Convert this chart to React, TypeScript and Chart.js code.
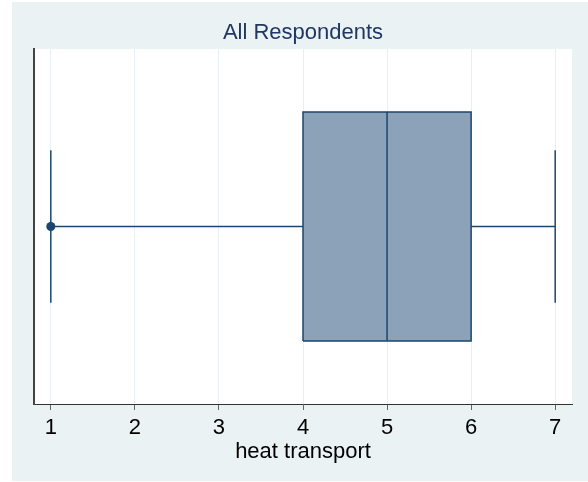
import { useEffect, useRef } from 'react';
import { Chart, registerables } from 'chart.js';

Chart.register(...registerables);

// ---- data ----
const categories = ['heat transport'];
const chartTitle = 'All Respondents';
// lower adjacent, first quartile, median, third quartile, upper adjacent
const statLabels = ['lower', 'q1', 'median', 'q3', 'upper'];
const statValues = [1, 4, 5, 6, 7];
const outsideValues = [1];
const tickValues = [1, 2, 3, 4, 5, 6, 7];

// ---- styles ----
const NAVY = '#1a476f';
const BOX_FILL = '#8ca2b8';
const BG = '#eaf2f3';
const FONT = '"Liberation Sans", Arial, Helvetica, sans-serif';
const BOX_HALF = 0.645;
const CAP_HALF = 0.43;

const bgPlugin = {
  id: 'bgPlugin',
  beforeDraw(chart: any) {
    const { ctx, chartArea, width, height } = chart;
    ctx.save();
    ctx.fillStyle = '#ffffff';
    ctx.fillRect(0, 0, width, height);
    ctx.fillStyle = BG;
    ctx.fillRect(12, 2, width - 12, height - 3);
    ctx.fillStyle = '#ffffff';
    ctx.fillRect(chartArea.left, chartArea.top, chartArea.right - chartArea.left, chartArea.bottom - chartArea.top);
    ctx.restore();
  },
};

export default function App() {
  const ref = useRef<HTMLCanvasElement | null>(null);

  useEffect(() => {
    document.body.style.margin = '0';
    const [lo, q1, med, q3, hi] = statValues;
    const line = (data: any[], extra: any = {}) => ({
      type: 'scatter',
      data,
      showLine: true,
      borderColor: NAVY,
      borderWidth: 1.5,
      pointRadius: 0,
      tension: 0,
      fill: false,
      ...extra,
    });
    const chart = new Chart(ref.current as HTMLCanvasElement, {
      type: 'scatter',
      data: {
        datasets: [
          line([{ x: q1, y: BOX_HALF }, { x: q3, y: BOX_HALF }], {
            label: categories[0] + ' box', borderWidth: 0, fill: '+1', backgroundColor: BOX_FILL, order: 10,
          }),
          line([{ x: q1, y: -BOX_HALF }, { x: q3, y: -BOX_HALF }], { label: 'box-bottom', borderWidth: 0, order: 10 }),
          line(
            [
              { x: q1, y: -BOX_HALF },
              { x: q3, y: -BOX_HALF },
              { x: q3, y: BOX_HALF },
              { x: q1, y: BOX_HALF },
              { x: q1, y: -BOX_HALF },
            ],
            { label: 'box-outline', order: 2 }
          ),
          line([{ x: med, y: -BOX_HALF }, { x: med, y: BOX_HALF }], { label: statLabels[2], order: 2 }),
          line([{ x: lo, y: 0 }, { x: q1, y: 0 }], { label: 'lower whisker', order: 2 }),
          line([{ x: q3, y: 0 }, { x: hi, y: 0 }], { label: 'upper whisker', order: 2 }),
          line([{ x: lo, y: -CAP_HALF }, { x: lo, y: CAP_HALF }], { label: statLabels[0], order: 2 }),
          line([{ x: hi, y: -CAP_HALF }, { x: hi, y: CAP_HALF }], { label: statLabels[4], order: 2 }),
          {
            type: 'scatter',
            label: 'outside values',
            data: outsideValues.map((v) => ({ x: v, y: 0 })),
            pointRadius: 4.5,
            pointBackgroundColor: NAVY,
            pointBorderWidth: 0,
            showLine: false,
            order: 1,
          },
        ] as any,
      },
      options: {
        responsive: false,
        animation: false,
        devicePixelRatio: 1,
        layout: { padding: { left: 34, right: 16, top: 0, bottom: 0 } },
        plugins: {
          legend: { display: false },
          tooltip: { enabled: false },
          title: {
            display: true,
            text: chartTitle,
            color: '#1f3762',
            font: { family: FONT, size: 22, weight: 'normal' },
            padding: { top: 20, bottom: 2.6 },
          },
        },
        scales: {
          x: {
            type: 'linear',
            min: 0.8,
            max: 7.2,
            afterBuildTicks: (s: any) => {
              s.ticks = tickValues.map((v) => ({ value: v }));
            },
            afterFit: (s: any) => {
              s.height = 78;
            },
            ticks: {
              color: '#000',
              font: { family: FONT, size: 22 },
              padding: 5,
              autoSkip: false,
              maxRotation: 0,
            },
            grid: { color: '#e6eff1', lineWidth: 1, tickColor: '#666', tickLength: 6 },
            border: { color: '#333', width: 1 },
            title: {
              display: true,
              text: categories[0],
              color: '#000',
              font: { family: FONT, size: 22 },
              padding: { top: 0, bottom: 17 },
            },
          },
          y: {
            type: 'linear',
            min: -1,
            max: 1,
            ticks: { display: false },
            grid: { display: false, drawTicks: false },
            border: { color: '#444', width: 2 },
            afterFit: (s: any) => {
              s.width = 0;
            },
          },
        },
      } as any,
      plugins: [bgPlugin],
    });
    return () => chart.destroy();
  }, []);

  return <canvas ref={ref} width={588} height={482} style={{ display: 'block' }} />;
}
